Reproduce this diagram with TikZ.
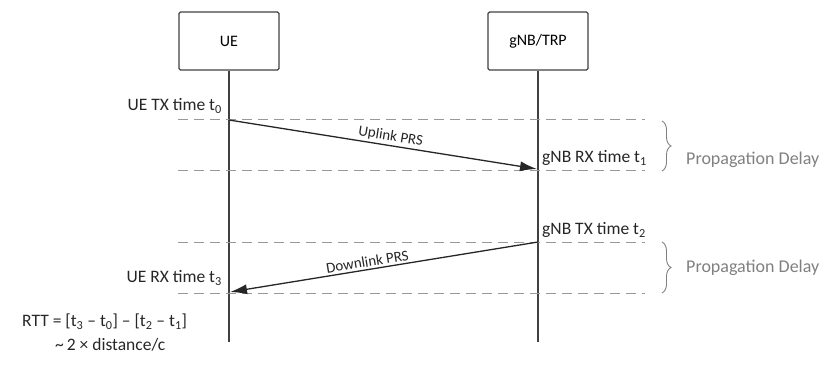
\documentclass[tikz,border=0pt]{standalone}
\usepackage{fontspec}
\setmainfont{Carlito}
\usetikzlibrary{arrows.meta,decorations.pathreplacing}
\begin{document}
\begin{tikzpicture}[x=1pt,y=-1pt,
  actor/.style={draw=black!75,line width=1.3pt,rounded corners=1.5pt,minimum width=100pt,minimum height=58pt,font=\fontsize{16}{18}\selectfont},
  life/.style={draw=black!75,line width=1.3pt},
  guide/.style={draw=black!40,line width=1pt,dash pattern=on 10pt off 6pt},
  msg/.style={draw=black!85,line width=1.3pt,-{Latex[length=17pt,width=10pt]}},
  lbl/.style={font=\fontsize{17.5}{19}\selectfont,text=black!85,inner sep=1pt},
  mlbl/.style={font=\fontsize{15}{17}\selectfont,text=black!85,inner sep=2pt},
  glbl/.style={font=\fontsize{18}{20}\selectfont,text=black!50,inner sep=0pt,anchor=west},
  brc/.style={draw=black!50,line width=0.9pt,decorate,decoration={brace,amplitude=9pt}}]
\useasboundingbox (0,0) rectangle (832,366);
\node[actor] (ue) at (229,41) {UE};
\node[actor] (gnb) at (538,41) {gNB/TRP};
\coordinate (ueend) at (229,342);
\coordinate (gnbend) at (538,342);
\draw[life] (ue.south) -- (ueend);
\draw[life] (gnb.south) -- (gnbend);
% dashed guides
\coordinate (a1) at (178,120); \coordinate (a2) at (645,120);
\coordinate (b1) at (178,171); \coordinate (b2) at (645,171);
\coordinate (c1) at (178,242); \coordinate (c2) at (645,242);
\coordinate (e1) at (178,293); \coordinate (e2) at (645,293);
\draw[guide] (a1) -- (a2);
\draw[guide] (b1) -- (b2);
\draw[guide] (c1) -- (c2);
\draw[guide] (e1) -- (e2);
% messages
\coordinate (t0) at (229,120);
\coordinate (t1) at (537,169);
\coordinate (t2) at (538,242);
\coordinate (t3) at (230,292);
\draw[msg] (t0) -- node[mlbl,above,sloped,pos=0.52] (ul) {Uplink PRS} (t1);
\draw[msg] (t2) -- node[mlbl,above,sloped,pos=0.55] (dl) {Downlink PRS} (t3);
% time labels
\node[lbl,anchor=east] (l0) at (223,106) {UE TX time t\textsubscript{0}};
\node[lbl,anchor=west] (l1) at (541,158) {gNB RX time t\textsubscript{1}};
\node[lbl,anchor=west] (l2) at (541,230) {gNB TX time t\textsubscript{2}};
\node[lbl,anchor=east] (l3) at (223,278) {UE RX time t\textsubscript{3}};
\node[lbl,anchor=west] (rtt) at (21,322) {RTT = [t\textsubscript{3} -- t\textsubscript{0}] -- [t\textsubscript{2} -- t\textsubscript{1}]};
\node[lbl,anchor=west] (approx) at (54,345) {\textasciitilde\,2 × distance/c};
% braces
\coordinate (p1) at (662,121); \coordinate (p2) at (662,171);
\coordinate (q1) at (662,242); \coordinate (q2) at (662,293);
\draw[brc] (p1) -- (p2);
\draw[brc] (q1) -- (q2);
\node[glbl] (pd1) at (686,160) {Propagation Delay};
\node[glbl] (pd2) at (686,268) {Propagation Delay};
\end{tikzpicture}
\end{document}
